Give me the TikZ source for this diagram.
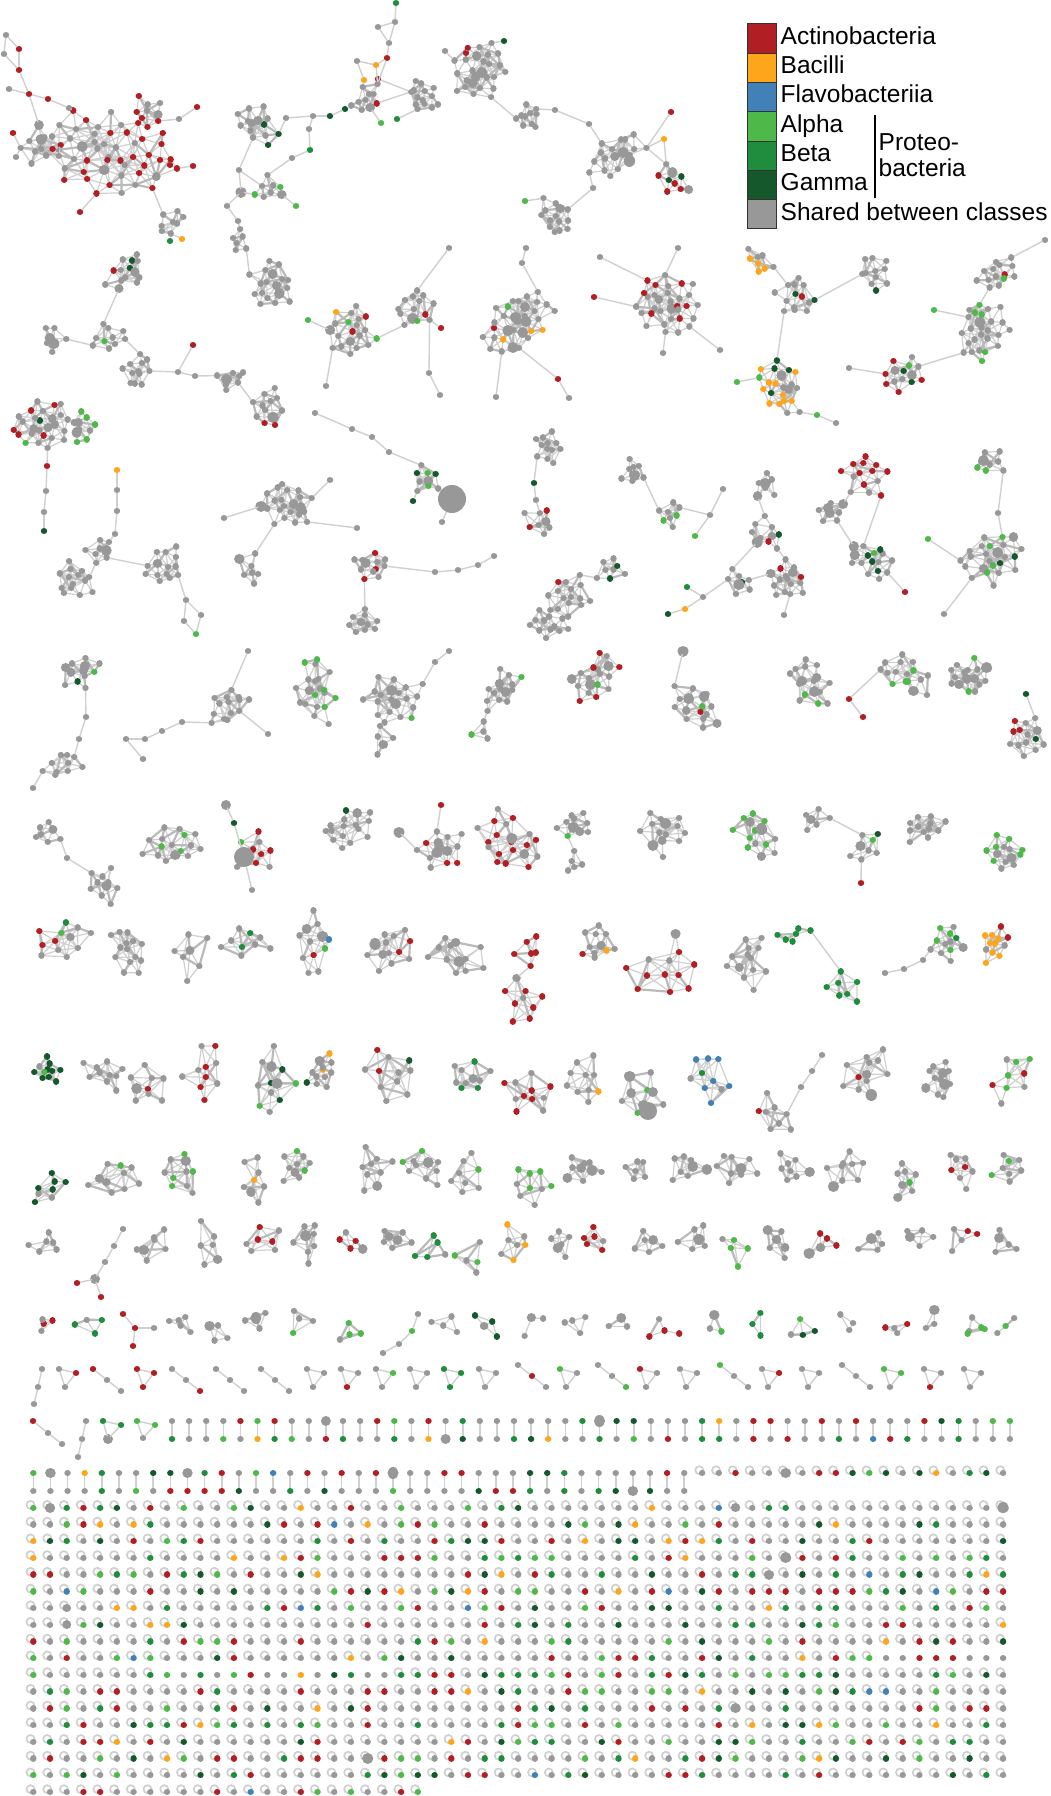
\documentclass[tikz,border=0pt]{standalone}
\usepackage{fontspec}
\setmainfont{Liberation Sans}
\usetikzlibrary{positioning}

\definecolor{act}{RGB}{177,30,36}
\definecolor{bac}{RGB}{253,166,28}
\definecolor{fla}{RGB}{66,128,184}
\definecolor{alp}{RGB}{78,184,72}
\definecolor{bet}{RGB}{32,140,62}
\definecolor{gam}{RGB}{20,88,44}
\definecolor{shr}{RGB}{152,152,152}
\definecolor{edgc}{RGB}{208,208,208}
\definecolor{edgd}{RGB}{186,186,186}

\tikzset{
  vdot/.style={line cap=round, line width=6.4pt, draw=#1},
  edg/.style={draw=edgc, line width=1.2pt},
  lnk/.style={draw=edgc, line width=1.4pt, shorten >=3pt, shorten <=3pt},
  loopst/.style={draw=edgc, line width=1.7pt},
  lgbox/.style={rectangle, draw=black!80, line width=0.9pt, fill=#1,
    minimum width=29pt, minimum height=29.3pt, inner sep=0pt, anchor=north west},
  lgtxt/.style={inner sep=0pt, anchor=base west, font=\fontsize{24.5}{28}\selectfont}
}

\def\hubp{0.15}
\def\gspec{act/0.15,alp/0.1,bet/0.08,gam/0.07,bac/0.035,fla/0.012}

% colour of one vertex from a list colour/probability
\newcommand\pickcol[1]{%
  \pgfmathsetmacro\pu{rnd}%
  \xdef\pcol{shr}\xdef\pcum{0}\xdef\pdone{0}%
  \foreach \cc/\pp in {#1}{%
    \pgfmathsetmacro\pnew{\pcum+\pp}\xdef\pcum{\pnew}%
    \ifnum\pdone=0 \ifdim\pu pt<\pcum pt \xdef\pcol{\cc}\xdef\pdone{1}\fi\fi
  }%
  \ifnum\pdone=0 \pgfmathsetmacro\psz{rnd<\hubp ? 8.5+3*rnd : 6.4}\else\def\psz{6.4}\fi
}

% vertices
\newcommand\putdot[3]{\draw[vdot=#2, line width=#3pt] (#1) -- ++(0.01,0);}
\newcommand\cdef[3]{%
  \coordinate (#1) at (#2,#3);%
  \pgfmathsetmacro\tmpx{#2}\expandafter\xdef\csname bx#1\endcsname{\tmpx}%
  \pgfmathsetmacro\tmpy{#3}\expandafter\xdef\csname by#1\endcsname{\tmpy}}
\newcommand\vx[5]{\cdef{#1}{#2}{#3}\putdot{#1}{#4}{#5}}
\newcommand\nd[4]{\vx{#1}{#2}{#3}{#4}{6.4}}
\newcommand\hb[4]{\vx{#1}{#2}{#3}{shr}{#4}}

% links
\newcommand\lnks[1]{\foreach \ua/\ub in {#1}{\draw[lnk] (\ua) -- (\ub);}}
\newcommand\nearest[4]{% blob, count, x, y -> \nidx
  \xdef\nbest{16000}\xdef\nidx{1}%
  \foreach \bk in {1,...,#2}{%
    \edef\xa{\csname bx#1-\bk\endcsname}\edef\ya{\csname by#1-\bk\endcsname}%
    \pgfmathsetmacro\dd{veclen(\xa-(#3),\ya-(#4))}%
    \ifdim\dd pt<\nbest pt \xdef\nbest{\dd}\xdef\nidx{\bk}\fi
  }}
\newcommand\nl[2]{% vertex to the nearest vertex of a cluster
  \edef\qx{\csname bx#1\endcsname}\edef\qy{\csname by#1\endcsname}%
  \edef\nn{\csname bn#2\endcsname}\nearest{#2}{\nn}{\qx}{\qy}%
  \draw[lnk] (#1) -- (#2-\nidx);}
\newcommand\bl[2]{% cluster to cluster
  \edef\qx{\csname bx#2\endcsname}\edef\qy{\csname by#2\endcsname}%
  \edef\nn{\csname bn#1\endcsname}\nearest{#1}{\nn}{\qx}{\qy}\edef\ia{\nidx}%
  \edef\qx{\csname bx#1-\ia\endcsname}\edef\qy{\csname by#1-\ia\endcsname}%
  \edef\nn{\csname bn#2\endcsname}\nearest{#2}{\nn}{\qx}{\qy}%
  \draw[lnk] (#1-\ia) -- (#2-\nidx);}

% a cluster: name, x, y, radius, count, colours
\newcommand\blob[6]{%
  \expandafter\xdef\csname bn#1\endcsname{#5}%
  \expandafter\xdef\csname bx#1\endcsname{#2}%
  \expandafter\xdef\csname by#1\endcsname{#3}%
  \pgfmathsetmacro\bthr{1.9*#4*sqrt(3.1416/#5)}%
  \pgfmathsetmacro\brot{360*rnd}%
  \pgfmathsetmacro\bphi{180*rnd}%
  \pgfmathsetmacro\bax{1+0.3*rnd}%
  \foreach \bk in {1,...,#5}{%
    \pgfmathsetmacro\rr{#4*((\bk-0.5)/#5)^0.6}%
    \pgfmathsetmacro\bu{\bax*\rr*cos(\brot+137.508*\bk)+0.16*\bthr*rand}%
    \pgfmathsetmacro\bv{\rr*sin(\brot+137.508*\bk)/\bax+0.16*\bthr*rand}%
    \pgfmathsetmacro\px{#2+\bu*cos(\bphi)-\bv*sin(\bphi)}%
    \pgfmathsetmacro\py{#3+\bu*sin(\bphi)+\bv*cos(\bphi)}%
    \expandafter\xdef\csname bx#1-\bk\endcsname{\px}%
    \expandafter\xdef\csname by#1-\bk\endcsname{\py}%
    \pgfmathsetmacro\hubp{\bk<=#5/3 ? 0.28 : 0.05}%
    \pickcol{#6}%
    \expandafter\xdef\csname bc#1-\bk\endcsname{\pcol}%
    \expandafter\xdef\csname bs#1-\bk\endcsname{\psz}%
    \coordinate (#1-\bk) at (\px,\py);%
  }%
  \ifnum#5>1
    \gdef\thinl{}\gdef\thickl{}%
    \foreach \bk in {2,...,#5}{%
      \pgfmathtruncatemacro\km{\bk-1}%
      \xdef\bhit{0}\xdef\bmin{16000}\xdef\bminj{1}%
      \foreach \bj in {1,...,\km}{%
        \edef\xa{\csname bx#1-\bk\endcsname}\edef\xb{\csname bx#1-\bj\endcsname}%
        \edef\ya{\csname by#1-\bk\endcsname}\edef\yb{\csname by#1-\bj\endcsname}%
        \pgfmathsetmacro\dd{veclen(\xa-\xb,\ya-\yb)}%
        \ifdim\dd pt<\bmin pt \xdef\bmin{\dd}\xdef\bminj{\bj}\fi
        \ifdim\dd pt<\bthr pt\relax
          \xdef\bhit{1}%
          \pgfmathsetmacro\lu{rnd}%
          \ifdim\lu pt<0.22pt \xdef\thickl{\thickl (#1-\bk)--(#1-\bj)}%
          \else \xdef\thinl{\thinl (#1-\bk)--(#1-\bj)}\fi
        \fi
      }%
      \ifnum\bhit=0 \xdef\thinl{\thinl (#1-\bk)--(#1-\bminj)}\fi
    }%
    \draw[edg] \thinl;
    \draw[edg, draw=edgd, line width=2.2pt] \thickl;
  \fi
  \foreach \bk in {1,...,#5}{%
    \edef\tc{\csname bc#1-\bk\endcsname}\edef\ts{\csname bs#1-\bk\endcsname}%
    \putdot{#1-\bk}{\tc}{\ts}%
  }%
}

\newcommand\tri[6]{%
  \nd{#1a}{#2}{#3}{#4}\nd{#1b}{#2+17}{#3+4}{#5}\nd{#1c}{#2+6}{#3+18}{#6}%
  \lnks{#1a/#1b,#1b/#1c,#1c/#1a}}
\newcommand\chn[6]{%
  \nd{#1a}{#2}{#3}{#4}\nd{#1b}{#2+14}{#3+11}{#5}\nd{#1c}{#2+28}{#3+22}{#6}%
  \lnks{#1a/#1b,#1b/#1c}}

\begin{document}
\begin{tikzpicture}[x=1pt, y=-1pt]
\pgfmathsetseed{20}
\useasboundingbox (0,0) rectangle (1050,1796);
\fill[white] (0,0) rectangle (1050,1796);

% legend
\foreach \i/\cl/\tx in {0/act/Actinobacteria, 1/bac/Bacilli, 2/fla/Flavobacteriia,
    3/alp/Alpha, 4/bet/Beta, 5/gam/Gamma, 6/shr/Shared between classes}{
  \node[lgbox=\cl] (key\i) at (747,{23.3+29.3*\i}) {};
  \node[lgtxt] (lab\i) at (780.5,{44.3+29.3*\i}) {\tx};
}
\draw[line width=1.1pt] (875,115) -- (875,198);
\node[lgtxt] (pro1) at (878.5,150) {Proteo-};
\node[lgtxt] (pro2) at (878.5,176.7) {bacteria};

% ---- top row of networks
\blob{a1}{108}{152}{55}{50}{act/0.55}
\blob{a2}{42}{147}{22}{12}{act/0.35}
\blob{a3}{150}{112}{17}{9}{act/0.45}
\blob{a4}{172}{222}{15}{8}{act/0.05}
\nd{at1}{6}{35}{shr}\nd{at2}{4}{54}{shr}\nd{at3}{19}{49}{act}\nd{at4}{19}{70}{act}
\nd{at5}{29}{94}{act}\nd{at6}{9}{89}{shr}\nd{at7}{48}{99}{act}\nd{at8}{69}{108}{shr}
\nd{at9}{197}{107}{act}\nd{at10}{179}{119}{shr}\nd{at11}{193}{166}{act}\nd{at12}{170}{165}{act}
\nd{at13}{80}{212}{act}\nd{at14}{170}{241}{bet}\nd{at15}{182}{239}{bac}
\nd{at16}{13}{133}{act}\nd{at17}{16}{157}{shr}
\lnks{at1/at2,at1/at3,at2/at4,at3/at4,at4/at5,at6/at5,at5/at7,at7/at8,at9/at10}
\nl{at5}{a2}\nl{at8}{a1}\nl{at10}{a3}\nl{at11}{a1}\nl{at12}{a1}\nl{at13}{a1}
\nl{at14}{a4}\nl{at15}{a4}\nl{at16}{a2}\nl{at17}{a2}
\bl{a2}{a1}\bl{a3}{a1}\bl{a4}{a1}

\blob{b1}{258}{125}{21}{14}{act/0.07,gam/0.07}
\nd{bc1}{286}{118}{shr}\nd{bc2}{313}{116}{shr}\nd{bc3}{330}{116}{gam}\nd{bc4}{345}{109}{gam}
\blob{b2}{367}{100}{16}{10}{act/0.05}
\blob{b3}{422}{96}{17}{14}{act/0}
\nd{bt1}{396}{3}{bet}\nd{bt2}{395}{22}{shr}\nd{bt3}{378}{27}{shr}\nd{bt4}{389}{43}{shr}
\nd{bt5}{387}{58}{act}\nd{bt6}{376}{65}{bac}\nd{bt7}{357}{61}{shr}\nd{bt8}{364}{80}{bac}
\nd{bt9}{378}{79}{act}\nd{bg1}{381}{123}{alp}\nd{bg2}{397}{119}{bet}
\lnks{bt1/bt2,bt2/bt3,bt2/bt4,bt3/bt4,bt4/bt5,bt5/bt6,bt6/bt7,bt7/bt8,bc1/bc2,bc2/bc3,bc3/bc4}
\nl{bt6}{b2}\nl{bt5}{b2}\nl{bt8}{b2}\nl{bt9}{b2}\nl{bt9}{b3}\nl{bg1}{b2}\nl{bg2}{b3}
\nl{bc1}{b1}\nl{bc4}{b2}\bl{b2}{b3}
\nd{bu1}{239}{170}{shr}\hb{bu2}{241}{192}{11}\nd{bu3}{227}{206}{shr}\nd{bu4}{238}{221}{shr}
\blob{b4}{270}{188}{16}{8}{alp/0.25}
\nd{bu5}{292}{158}{shr}\nd{bu6}{310}{150}{bet}\nd{bu7}{309}{129}{shr}\nd{bu8}{296}{206}{alp}
\blob{b5}{238}{242}{12}{6}{act/0}
\blob{b6}{270}{285}{25}{18}{act/0}
\lnks{bu1/bu2,bu2/bu3,bu3/bu4,bu5/bu6,bu6/bu7,bu7/bc2}
\nl{bu1}{b1}\nl{bu4}{b5}\nl{bu2}{b4}\nl{bu1}{b4}\nl{bu5}{b4}\nl{bu8}{b4}\bl{b5}{b6}

\blob{c1}{480}{70}{30}{26}{act/0.03}
\nd{cc1}{466}{53}{act}\nd{cc2}{504}{41}{gam}\nd{cc3}{445}{51}{shr}
\blob{c2}{528}{118}{15}{10}{bet/0.1}
\nd{cc4}{555}{110}{shr}\nd{cc5}{589}{124}{shr}
\blob{c3}{617}{155}{26}{18}{act/0}
\blob{c4}{672}{180}{17}{9}{act/0.4,gam/0.2}
\nd{cc6}{671}{112}{act}\nd{cc7}{664}{139}{bac}
\blob{c5}{557}{218}{19}{14}{act/0}
\nd{cc8}{525}{201}{alp}\nd{cc9}{593}{188}{shr}
\nl{cc1}{c1}\nl{cc2}{c1}\nl{cc3}{c1}\bl{c1}{c2}\nl{cc4}{c2}\lnks{cc4/cc5}\nl{cc5}{c3}
\bl{c3}{c4}\nl{cc6}{c3}\nl{cc7}{c3}\nl{cc7}{c4}\nl{cc9}{c3}\nl{cc9}{c5}\nl{cc8}{c5}

% ---- second band
\blob{d1}{127}{273}{21}{14}{gam/0.15,act/0.07,alp/0.07}
\blob{d2}{110}{337}{17}{10}{alp/0.1}
\blob{d3}{52}{340}{15}{7}{act/0}
\blob{d4}{137}{372}{18}{12}{act/0}
\nd{dd1}{193}{345}{act}\nd{dd2}{178}{372}{shr}\nd{dd3}{195}{376}{shr}
\blob{d5}{231}{378}{15}{8}{act/0}
\blob{d6}{268}{408}{19}{12}{act/0.08}
\bl{d1}{d2}\bl{d2}{d3}\bl{d2}{d4}\nl{dd2}{d4}\lnks{dd2/dd3,dd1/dd2}\nl{dd3}{d5}\bl{d5}{d6}

\blob{e1}{352}{332}{26}{20}{alp/0.2,act/0.1,bac/0.05}
\blob{e2}{415}{308}{22}{14}{act/0.12,alp/0.08}
\nd{ee1}{449}{248}{shr}\nd{ee2}{429}{373}{shr}\nd{ee3}{441}{328}{act}
\nd{ee4}{326}{386}{shr}\nd{ee5}{308}{320}{alp}\nd{ee6}{440}{395}{shr}
\bl{e1}{e2}\nl{ee1}{e2}\nl{ee2}{e2}\nl{ee3}{e2}\nl{ee4}{e1}\nl{ee5}{e1}\lnks{ee2/ee6}

\blob{f1}{518}{322}{33}{32}{act/0.06,bac/0.04,alp/0.06,gam/0.03}
\nd{ff1}{526}{248}{shr}\nd{ff2}{522}{263}{shr}\nd{ff3}{558}{379}{act}
\nd{ff4}{569}{398}{shr}\nd{ff5}{496}{397}{shr}
\lnks{ff1/ff2,ff4/ff3}\nl{ff2}{f1}\nl{ff3}{f1}\nl{ff5}{f1}

\blob{g1}{668}{305}{33}{32}{act/0.14,alp/0.06}
\nd{gg1}{594}{297}{act}\nd{gg2}{600}{257}{shr}\nd{gg3}{678}{248}{shr}
\nd{gg4}{663}{353}{shr}\nd{gg5}{720}{350}{shr}
\nl{gg1}{g1}\nl{gg2}{g1}\nl{gg3}{g1}\nl{gg4}{g1}\nl{gg5}{g1}

\blob{h1}{757}{262}{15}{8}{bac/0.5}
\blob{h2}{797}{297}{21}{14}{act/0.08,gam/0.08}
\blob{h3}{874}{273}{18}{11}{act/0.1,gam/0.1}
\blob{h4}{780}{388}{26}{22}{bac/0.35,gam/0.2,alp/0.05}
\nd{hh1}{737}{382}{alp}\nd{hh2}{817}{415}{alp}\nd{hh3}{836}{423}{shr}
\bl{h1}{h2}\bl{h2}{h3}\bl{h2}{h4}\nl{hh1}{h4}\nl{hh2}{h4}\lnks{hh2/hh3}

\blob{i1}{998}{272}{19}{14}{alp/0.1,act/0.1}
\blob{i2}{982}{330}{30}{26}{alp/0.12,gam/0.04}
\blob{i3}{904}{375}{21}{14}{alp/0.15,act/0.08,gam/0.05}
\nd{ii1}{849}{368}{shr}\nd{ii2}{934}{310}{alp}\nd{ii3}{1045}{240}{shr}
\bl{i1}{i2}\bl{i2}{i3}\nl{ii1}{i3}\nl{ii2}{i2}\nl{ii3}{i1}

\blob{j1}{42}{425}{28}{26}{act/0.25,gam/0.08,alp/0.12}
\blob{j2}{82}{428}{16}{10}{alp/0.3}
\bl{j1}{j2}

% ---- third band
\nd{k1}{47}{466}{act}\nd{k2}{46}{491}{shr}\nd{k3}{44}{512}{shr}\nd{k4}{44}{531}{gam}
\nl{k1}{j1}\lnks{k1/k2,k2/k3,k3/k4}
\nd{l1}{117}{470}{bac}\nd{l2}{117}{490}{shr}\nd{l3}{117}{511}{shr}\nd{l4}{115}{534}{shr}
\blob{m1}{100}{550}{15}{8}{act/0}
\blob{m2}{74}{580}{21}{14}{alp/0.07}
\blob{m3}{164}{567}{21}{14}{act/0}
\nd{mm1}{186}{600}{shr}\nd{mm2}{184}{621}{shr}\nd{mm3}{201}{615}{shr}\nd{mm4}{196}{634}{alp}
\lnks{l1/l2,l2/l3,l3/l4,mm1/mm2,mm1/mm3,mm2/mm4,mm3/mm4}
\nl{l4}{m1}\bl{m1}{m2}\bl{m1}{m3}\nl{mm1}{m3}

\blob{n1}{288}{505}{26}{22}{act/0}
\nd{nn1}{224}{518}{shr}\nd{nn2}{357}{528}{shr}\nd{nn3}{330}{480}{shr}
\blob{n2}{251}{568}{16}{7}{act/0}
\nl{nn1}{n1}\nl{nn2}{n1}\nl{nn3}{n1}\bl{n1}{n2}

\nd{oo1}{315}{413}{shr}\nd{oo2}{352}{429}{shr}\nd{oo3}{372}{437}{shr}\nd{oo4}{389}{452}{shr}
\blob{o1}{425}{478}{16}{9}{alp/0.25,gam/0.2}
\nd{oo5}{413}{501}{gam}\nd{oo6}{442}{522}{shr}
\lnks{oo1/oo2,oo2/oo3,oo3/oo4}\nl{oo4}{o1}\nl{oo5}{o1}
\cdef{og}{452}{499}
\nl{og}{o1}\lnks{oo6/og}
\putdot{og}{shr}{28}

\blob{p1}{549}{447}{17}{12}{alp/0.15}
\nd{pp1}{534}{483}{gam}\nd{pp2}{536}{500}{shr}
\blob{p2}{540}{522}{17}{8}{act/0.35,alp/0.1}
\nl{pp1}{p1}\lnks{pp1/pp2}\nl{pp2}{p2}

\blob{q1}{633}{472}{13}{8}{act/0}
\blob{q2}{668}{515}{15}{8}{alp/0.15}
\nd{qq1}{695}{536}{alp}\nd{qq2}{723}{489}{shr}\nd{qq3}{710}{515}{shr}
\bl{q1}{q2}\nl{qq3}{q2}\lnks{qq3/qq1,qq3/qq2}

\blob{r1}{764}{485}{13}{7}{act/0}
\blob{r2}{767}{533}{17}{10}{act/0.1,gam/0.1}
\blob{r3}{740}{583}{15}{8}{gam/0.25}
\blob{r4}{787}{580}{21}{16}{act/0.1}
\nd{rr1}{703}{597}{shr}\nd{rr2}{685}{609}{bac}\nd{rr3}{668}{614}{gam}
\nd{rr4}{687}{587}{bet}\nd{rr5}{784}{615}{shr}
\bl{r1}{r2}\bl{r2}{r3}\bl{r2}{r4}\bl{r3}{r4}\nl{rr1}{r3}\lnks{rr1/rr2,rr2/rr3,rr1/rr4}\nl{rr5}{r4}

\blob{s1}{866}{475}{24}{14}{act/0.6}
\blob{s2}{831}{513}{15}{8}{act/0}
\blob{s3}{871}{560}{21}{16}{alp/0.15,gam/0.15}
\nd{ss1}{905}{592}{act}
\bl{s1}{s3}\bl{s1}{s2}\bl{s2}{s3}\nl{ss1}{s3}

\blob{t1}{991}{463}{15}{8}{alp/0.1}
\nd{tt1}{998}{513}{shr}
\blob{t2}{991}{557}{30}{24}{alp/0.2,gam/0.05}
\nd{tt2}{944}{614}{shr}\nd{tt4}{928}{539}{alp}
\nl{tt1}{t1}\nl{tt1}{t2}\nl{tt2}{t2}\nl{tt4}{t2}

\blob{u1}{372}{565}{18}{12}{act/0.15}
\nd{uu1}{435}{572}{shr}\nd{uu2}{458}{570}{shr}\nd{uu3}{478}{565}{shr}\nd{uu4}{494}{556}{shr}
\blob{u2}{365}{622}{18}{10}{act/0.1}
\nl{uu1}{u1}\lnks{uu1/uu2,uu2/uu3,uu3/uu4}\bl{u1}{u2}

\blob{v1}{569}{597}{23}{16}{act/0.15}
\blob{v2}{610}{570}{15}{8}{gam/0.12}
\blob{v3}{549}{624}{19}{12}{act/0}
\bl{v1}{v2}\bl{v1}{v3}

% ---- fourth band
\blob{w1}{80}{673}{19}{12}{gam/0.08,act/0.08,alp/0.08}
\nd{ww1}{86}{717}{shr}\nd{ww2}{79}{739}{shr}
\blob{w2}{64}{765}{18}{10}{act/0}
\nd{ww3}{33}{788}{shr}
\nl{ww1}{w1}\lnks{ww1/ww2}\nl{ww2}{w2}\nl{ww3}{w2}

\blob{x1}{228}{707}{21}{14}{act/0}
\nd{xx1}{182}{722}{shr}\nd{xx2}{162}{731}{shr}\nd{xx3}{145}{739}{shr}\nd{xx4}{126}{739}{shr}
\nd{xx5}{143}{759}{shr}\nd{xx6}{248}{651}{shr}\nd{xx7}{268}{734}{shr}
\nl{xx1}{x1}\lnks{xx1/xx2,xx2/xx3,xx3/xx4,xx4/xx5}\nl{xx6}{x1}\nl{xx7}{x1}

\blob{y1}{315}{690}{27}{20}{alp/0.2,act/0.1}
\blob{z1}{395}{700}{28}{20}{act/0.06,alp/0.06,gam/0.06}
\nd{zz1}{435}{662}{shr}\nd{zz2}{449}{651}{shr}
\blob{z2}{385}{742}{14}{5}{act/0}
\nl{zz1}{z1}\lnks{zz1/zz2}\bl{z1}{z2}

\blob{aa1}{502}{690}{21}{14}{alp/0.08}
\blob{aa2}{478}{730}{12}{4}{alp/0.4}
\bl{aa1}{aa2}
\blob{ab1}{596}{677}{24}{18}{act/0.1,alp/0.07}
\blob{ac1}{697}{707}{24}{16}{act/0.12,gam/0.06,alp/0.06}
\hb{ac2}{683}{651}{11}
\nl{ac2}{ac1}
\blob{ad1}{810}{683}{24}{16}{alp/0.15}
\blob{ae1}{906}{675}{24}{16}{act/0.12,alp/0.06}
\nd{ae2}{849}{699}{act}\nd{ae3}{863}{717}{act}
\nl{ae2}{ae1}\lnks{ae3/ae2}
\blob{af1}{968}{677}{21}{16}{alp/0.06}
\blob{ag1}{1025}{738}{21}{14}{act/0.1,gam/0.1}
\nd{ag2}{1026}{694}{gam}
\nl{ag2}{ag1}

% ---- fifth band
\blob{ah1}{47}{833}{15}{7}{alp/0.15}
\nd{ah3}{67}{858}{shr}
\blob{ah2}{104}{885}{18}{10}{gam/0.1,alp/0.1}
\nl{ah3}{ah1}\nl{ah3}{ah2}
\blob{ai1}{174}{845}{26}{16}{alp/0.15,gam/0.06}
\blob{aj1}{254}{852}{21}{10}{act/0.3,alp/0.2,gam/0.05}
\hb{aj3}{226}{805}{10}\nd{aj4}{234}{823}{gam}\nd{aj5}{252}{890}{shr}
\cdef{aj2}{244}{857}
\lnks{aj3/aj4,aj4/aj2,aj2/aj5}\nl{aj2}{aj1}
\putdot{aj2}{shr}{20}
\blob{ak1}{348}{827}{24}{16}{gam/0.06,alp/0.06}
\blob{al1}{440}{850}{24}{14}{act/0.2}
\hb{al2}{399}{832}{11}\nd{al3}{441}{805}{act}
\nl{al2}{al1}\nl{al3}{al1}
\blob{am1}{510}{843}{32}{20}{act/0.8}
\blob{an1}{575}{825}{17}{10}{alp/0.15}
\blob{an2}{576}{865}{13}{5}{act/0}
\bl{an1}{an2}
\blob{ao1}{663}{832}{24}{14}{act/0}
\blob{ap1}{757}{835}{24}{14}{alp/0.3,act/0.07}
\blob{aq1}{817}{817}{15}{6}{act/0}
\blob{aq2}{864}{848}{17}{8}{gam/0.12,alp/0.12}
\nd{aq3}{861}{883}{act}
\bl{aq1}{aq2}\nl{aq3}{aq2}
\blob{ar1}{924}{827}{19}{12}{act/0}
\blob{as1}{1005}{853}{21}{14}{alp/0.5}

% ---- sixth band
\blob{f01}{63}{942}{27}{12}{act/0.4,bet/0.15,alp/0.08}
\blob{f02}{128}{950}{23}{14}{act/0}
\blob{f03}{190}{953}{25}{7}{act/0}
\blob{f04}{247}{941}{23}{9}{bet/0.1}
\blob{f05}{315}{945}{27}{12}{alp/0.08,act/0.08,fla/0.08}
\blob{f06}{390}{950}{25}{13}{act/0.08}
\blob{f07}{458}{955}{27}{12}{gam/0.15}
\blob{f08}{530}{950}{17}{6}{act/0.9}
\blob{f09}{522}{1003}{23}{9}{act/0.85}
\bl{f08}{f09}
\blob{f10}{597}{945}{19}{11}{bac/0.08,act/0.08}
\blob{f11}{667}{970}{37}{12}{act/0.95}
\blob{f12}{748}{960}{25}{13}{act/0}
\blob{f13}{792}{935}{14}{6}{bet/1}
\blob{f16}{846}{987}{23}{7}{bet/1}
\bl{f13}{f16}
\blob{f14}{947}{942}{18}{12}{alp/0.25,bet/0.1}
\nd{f14a}{885}{973}{shr}\nd{f14b}{904}{969}{shr}\nd{f14c}{923}{960}{shr}
\lnks{f14a/f14b,f14b/f14c}\nl{f14c}{f14}
\blob{f15}{995}{943}{16}{12}{bac/0.5,act/0.25}

% ---- seventh band
\blob{g01}{48}{1070}{16}{11}{gam/0.8,alp/0.1}
\blob{g02}{103}{1074}{21}{10}{act/0}
\blob{g03}{146}{1085}{21}{9}{act/0.12,gam/0.12}
\blob{g04}{205}{1072}{27}{10}{act/0.35}
\blob{g05}{272}{1083}{29}{12}{alp/0.3,gam/0.25}
\blob{g06}{322}{1072}{16}{12}{bac/0.3,gam/0.08}
\blob{g07}{392}{1076}{31}{11}{act/0.2,bac/0.1,gam/0.1}
\blob{g08}{470}{1076}{21}{10}{bet/0.1}
\blob{g09}{528}{1092}{25}{11}{act/0.4}
\blob{g10}{584}{1078}{23}{10}{bac/0.1,bet/0.1}
\blob{g11}{642}{1095}{25}{9}{alp/0.3}
\cdef{g11g}{648}{1111}
\nl{g11g}{g11}
\putdot{g11g}{shr}{18}
\blob{g12}{710}{1080}{28}{10}{fla/0.65,gam/0.1,bet/0.1}
\nd{g13a}{822}{1055}{shr}\nd{g13b}{812}{1071}{shr}\nd{g13c}{801}{1087}{shr}
\blob{g13}{775}{1114}{19}{8}{act/0.4}
\lnks{g13a/g13b,g13b/g13c}\nl{g13c}{g13}
\blob{g14}{868}{1073}{27}{12}{act/0.08}
\blob{g15}{940}{1078}{18}{12}{act/0}
\blob{g16}{1012}{1076}{25}{9}{act/0.4,alp/0.15}

% ---- eighth band
\blob{h01}{50}{1190}{19}{8}{gam/0.45}
\blob{h02}{117}{1177}{26}{10}{alp/0.1}
\blob{h03}{182}{1173}{23}{10}{alp/0.6,bet/0.1}
\blob{h04}{253}{1178}{21}{8}{bac/0.12}
\blob{h05}{297}{1167}{19}{10}{alp/0.15}
\blob{h06}{373}{1170}{21}{9}{alp/0.2}
\blob{h07}{423}{1167}{21}{10}{alp/0.1}
\blob{h08}{467}{1177}{21}{8}{alp/0.12}
\blob{h09}{532}{1185}{21}{9}{alp/0.5}
\blob{h10}{584}{1168}{18}{9}{act/0}
\blob{h11}{636}{1168}{16}{6}{act/0.2}
\blob{h12}{687}{1168}{18}{8}{act/0}
\blob{h13}{733}{1168}{21}{9}{act/0}
\blob{h14}{790}{1168}{18}{8}{act/0}
\blob{h15}{847}{1168}{21}{9}{act/0}
\blob{h16}{905}{1180}{18}{8}{alp/0.2}
\blob{h17}{962}{1168}{18}{8}{act/0.2,gam/0.2}
\blob{h18}{1008}{1168}{18}{8}{alp/0.3}

% ---- ninth band
\blob{i01}{47}{1242}{15}{6}{act/0}
\nd{i02a}{123}{1229}{shr}\nd{i02b}{114}{1246}{shr}\nd{i02c}{105}{1262}{shr}
\hb{i02d}{95}{1279}{10}\nd{i02e}{77}{1283}{act}\nd{i02f}{101}{1297}{act}
\lnks{i02a/i02b,i02b/i02c,i02c/i02d,i02d/i02e,i02d/i02f}
\blob{i03}{153}{1243}{18}{7}{alp/0.15}
\blob{i04}{208}{1247}{21}{6}{alp/0.2}
\blob{i05}{263}{1243}{21}{7}{act/0.4}
\blob{i06}{308}{1240}{18}{8}{alp/0.12}
\blob{i07}{352}{1240}{15}{5}{act/0.8}
\blob{i08}{393}{1238}{16}{7}{act/0}
\blob{i09}{433}{1247}{19}{5}{bet/0.9}
\blob{i10}{473}{1257}{19}{5}{alp/0.2}
\blob{i11}{515}{1242}{19}{7}{bac/0.15}
\blob{i12}{561}{1242}{16}{6}{act/0}
\blob{i13}{595}{1240}{16}{6}{act/0.5}
\blob{i14}{647}{1242}{18}{6}{act/0}
\blob{i15}{693}{1240}{18}{6}{act/0}
\blob{i16}{733}{1250}{18}{5}{alp/0.5}
\blob{i17}{779}{1242}{18}{6}{act/0}
\blob{i18}{824}{1242}{16}{5}{act/0.4}
\blob{i19}{870}{1242}{16}{5}{act/0}
\blob{i20}{916}{1237}{16}{5}{act/0}
\blob{i21}{962}{1237}{16}{5}{act/0.4}
\blob{i22}{1002}{1242}{16}{5}{act/0}

% ---- tenth band
\blob{j01}{45}{1325}{13}{4}{act/0.25}
\blob{j02}{88}{1327}{15}{4}{bet/0.8}
\nd{j03a}{123}{1314}{act}\nd{j03b}{135}{1328}{act}\nd{j03c}{154}{1328}{shr}\nd{j03d}{133}{1346}{act}
\lnks{j03a/j03b,j03b/j03c,j03b/j03d}
\blob{j04}{180}{1325}{13}{5}{act/0}
\blob{j05}{217}{1332}{15}{4}{act/0}
\blob{j06}{257}{1323}{15}{4}{act/0}
\blob{j07}{300}{1322}{15}{4}{alp/0.25}
\blob{j08}{350}{1330}{15}{4}{alp/0.75}
\nd{j09a}{418}{1314}{shr}\nd{j09b}{412}{1331}{alp}\nd{j09c}{399}{1344}{shr}\nd{j09d}{383}{1353}{shr}
\lnks{j09a/j09b,j09b/j09c,j09c/j09d}
\blob{j10}{448}{1323}{14}{4}{act/0}
\blob{j11}{490}{1325}{14}{4}{gam/0.7}
\blob{j12}{535}{1323}{13}{3}{act/0}
\blob{j13}{575}{1323}{14}{4}{act/0.3}
\blob{j14}{620}{1323}{13}{3}{act/0}
\blob{j15}{665}{1328}{14}{4}{act/0.4}
\blob{j16}{712}{1323}{13}{3}{alp/0.3}
\blob{j17}{756}{1323}{13}{3}{bet/0.5}
\blob{j18}{802}{1328}{16}{4}{gam/0.3,alp/0.3}
\blob{j19}{847}{1323}{13}{3}{act/0}
\blob{j20}{893}{1328}{14}{4}{act/0.5}
\blob{j21}{935}{1323}{13}{3}{gam/0.3}
\blob{j22}{973}{1328}{15}{5}{gam/0.3,alp/0.2}
\blob{j23}{1008}{1323}{12}{3}{alp/0.5}

% ---- eleventh band
\nd{k01a}{42}{1369}{shr}\nd{k01b}{38}{1387}{shr}\nd{k01c}{34}{1404}{shr}
\lnks{k01a/k01b,k01b/k01c}
\tri{k02}{59}{1369}{shr}{act}{shr}
\chn{k03}{93}{1369}{act}{shr}{shr}
\tri{k04}{137}{1369}{act}{act}{act}
\chn{k05}{172}{1369}{shr}{shr}{act}
\chn{k06}{216}{1369}{shr}{shr}{shr}
\chn{k07}{261}{1369}{shr}{shr}{shr}
\tri{k08}{307}{1369}{shr}{shr}{shr}
\tri{k09}{341}{1369}{shr}{shr}{act}
\tri{k10}{376}{1369}{shr}{alp}{shr}
\tri{k11}{410}{1369}{shr}{shr}{shr}
\tri{k12}{444}{1369}{bet}{bet}{bet}
\tri{k13}{479}{1369}{shr}{shr}{shr}
\chn{k14}{518}{1365}{shr}{act}{shr}
\tri{k15}{560}{1369}{alp}{shr}{shr}
\chn{k16}{598}{1365}{shr}{shr}{alp}
\tri{k17}{640}{1369}{act}{shr}{shr}
\tri{k18}{680}{1369}{shr}{shr}{shr}
\chn{k19}{720}{1365}{alp}{shr}{shr}
\tri{k20}{762}{1369}{shr}{act}{shr}
\tri{k21}{802}{1369}{shr}{shr}{shr}
\chn{k22}{842}{1365}{shr}{shr}{shr}
\tri{k23}{884}{1369}{alp}{alp}{shr}
\tri{k24}{924}{1369}{shr}{shr}{act}
\tri{k25}{964}{1369}{shr}{shr}{shr}

% ---- small pieces before the pairs
\nd{l01a}{33}{1421}{act}\nd{l01b}{48}{1433}{shr}\nd{l01c}{62}{1444}{shr}
\nd{l02a}{86}{1421}{shr}\nd{l02b}{82}{1439}{shr}\nd{l02c}{78}{1457}{shr}
\nd{l03a}{103}{1421}{bet}\nd{l03b}{121}{1425}{bet}\hb{l03c}{108}{1439}{10}
\nd{l04a}{137}{1421}{alp}\nd{l04b}{155}{1425}{alp}\nd{l04c}{143}{1438}{shr}
\lnks{l01a/l01b,l01b/l01c,l02a/l02b,l02b/l02c,l03a/l03b,l03b/l03c,l03c/l03a,
  l04a/l04b,l04b/l04c,l04c/l04a}

% ---- pairs
\def\hubp{0.02}
\foreach \q in {0,...,49}{%
  \coordinate (pt\q) at ({172+17.1*\q},1421);
  \coordinate (pb\q) at ({172+17.1*\q},1439);
  \draw[edg, line width=1.6pt] (pt\q) -- (pb\q);
  \expandafter\pickcol\expandafter{\gspec}\putdot{pt\q}{\pcol}{\psz}%
  \expandafter\pickcol\expandafter{\gspec}\putdot{pb\q}{\pcol}{\psz}%
}
\foreach \q in {0,...,38}{%
  \coordinate (qt\q) at ({33.3+17.13*\q},1473);
  \coordinate (qb\q) at ({33.3+17.13*\q},1491);
  \draw[edg, line width=1.6pt] (qt\q) -- (qb\q);
  \expandafter\pickcol\expandafter{\gspec}\putdot{qt\q}{\pcol}{\psz}%
  \expandafter\pickcol\expandafter{\gspec}\putdot{qb\q}{\pcol}{\psz}%
}

% ---- single vertices with self loops
\def\hubp{0.012}
\foreach \cl in {40,...,58}{%
  \coordinate (sa\cl) at ({33.3+16.72*\cl},1473);
  \draw[loopst] ([shift={(-2.8,-2.8)}]sa\cl) circle (4pt);
  \expandafter\pickcol\expandafter{\gspec}\putdot{sa\cl}{\pcol}{\psz}%
}
\foreach \rw in {0,...,17}{%
  \pgfmathtruncatemacro\nc{\rw==17 ? 23 : 58}%
  \foreach \cl in {0,...,\nc}{%
    \coordinate (s\rw-\cl) at ({33.3+16.72*\cl},{1507.7+16.72*\rw});
    \pgfmathtruncatemacro\lp{((\rw==9)&&(\cl>50))||((\rw==10)&&(\cl>7)&&(\cl<22)) ? 0 : 1}%
    \ifnum\lp=1 \draw[loopst] ([shift={(-2.8,-2.8)}]s\rw-\cl) circle (4pt);\fi
    \expandafter\pickcol\expandafter{\gspec}\putdot{s\rw-\cl}{\pcol}{\psz}%
  }%
}
\end{tikzpicture}
\end{document}
